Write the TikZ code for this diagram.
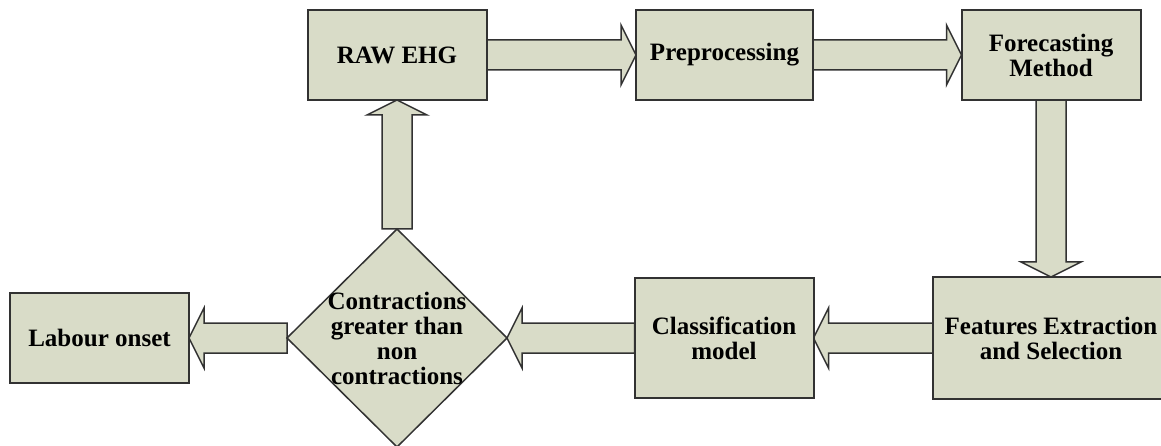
\documentclass[tikz,border=0pt]{standalone}
\usepackage{fontspec}
\setmainfont{Liberation Serif}
\usepackage{xcolor}
\definecolor{boxFill}{RGB}{217, 220, 200}
\definecolor{edgeGray}{RGB}{50, 50, 50}
\usetikzlibrary{positioning, shapes.geometric, calc, backgrounds}

\begin{document}
\begin{tikzpicture}[
      x=1pt, y=-1pt,
      stage/.style={
        rectangle, draw=edgeGray, fill=boxFill,
        minimum width=179pt, minimum height=90pt, inner sep=0pt, outer sep=0pt,
        font=\fontsize{25}{25}\selectfont\bfseries, align=center, line width=2pt
      },
      decision/.style={stage, diamond, minimum width=220pt, minimum height=218pt, line width=1.5pt},
      flow/.style={draw=edgeGray, fill=boxFill, line width=1.5pt,
        to path={($(\tikztotarget)!15pt!(\tikztostart)$) coordinate (hb)
          ($(\tikztostart)!15pt!90:(\tikztotarget)$) -- ($(hb)!15pt!90:(\tikztotarget)$)
          -- ($(hb)!30pt!90:(\tikztotarget)$) -- (\tikztotarget)
          -- ($(hb)!30pt!-90:(\tikztotarget)$) -- ($(hb)!15pt!-90:(\tikztotarget)$)
          -- ($(\tikztostart)!15pt!-90:(\tikztotarget)$) -- cycle}},
    ]
      \useasboundingbox (0,0) rectangle (1161,446);

      \node[stage]                     (raw)  at (397,55)    {RAW EHG};
      \node[stage, minimum width=177pt] (pre)  at (724.5,55)  {Preprocessing};
      \node[stage]                     (fore) at (1051,55)   {Forecasting\\Method};
      \node[stage, minimum width=236pt, minimum height=122pt] (feat) at (1051,338) {Features Extraction\\and Selection};
      \node[stage, minimum height=120pt] (cls) at (724,338)  {Classification\\model};
      \node[decision]                  (dec)  at (397,338)   {};
      \node[font=\fontsize{25}{25}\selectfont\bfseries, align=center] (dectext) at (dec) {Contractions\\greater than\\non\\contractions};
      \node[stage]                     (lab)  at (99.5,338)  {Labour onset};

      % block arrows behind the boxes
      \begin{scope}[on background layer]
        \foreach \i/\j in {raw.east/pre.west, pre.east/fore.west, fore.south/feat.north,
                           feat.west/cls.east, cls.west/dec.east, dec.west/lab.east, dec.north/raw.south} {
          \draw[flow] (\i) to (\j);
        }
      \end{scope}
    \end{tikzpicture}
\end{document}
